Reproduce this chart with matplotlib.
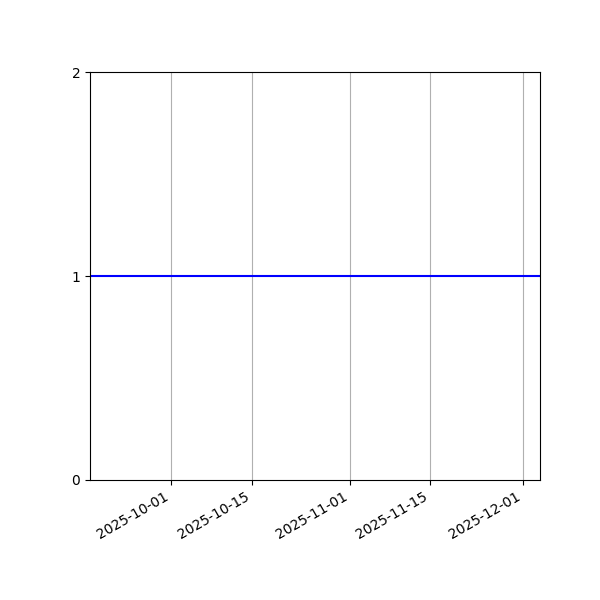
import numpy as np
import pandas as pd
import matplotlib
matplotlib.use("Agg")
import matplotlib.pyplot as plt
import matplotlib.dates as mdates

# data
dates = pd.to_datetime(["2025-09-17", "2025-10-15", "2025-11-15", "2025-12-04"])
values = [1, 1, 1, 1]
y_ticks = [0, 1, 2]

fig, ax = plt.subplots(figsize=(6, 6), dpi=100)
ax.plot(dates, values, color="blue", linewidth=1.5)
ax.set_xlim(dates[0], dates[-1])
ax.set_ylim(0, 2)
ax.set_yticks(y_ticks)
ax.xaxis.set_major_locator(mdates.DayLocator(bymonthday=[1, 15]))
ax.xaxis.set_major_formatter(mdates.DateFormatter("%Y-%m-%d"))
ax.grid(axis="x")
fig.autofmt_xdate()
fig.subplots_adjust(left=0.15, right=0.9, top=0.88, bottom=0.2)
fig.savefig("out.png", dpi=100)
